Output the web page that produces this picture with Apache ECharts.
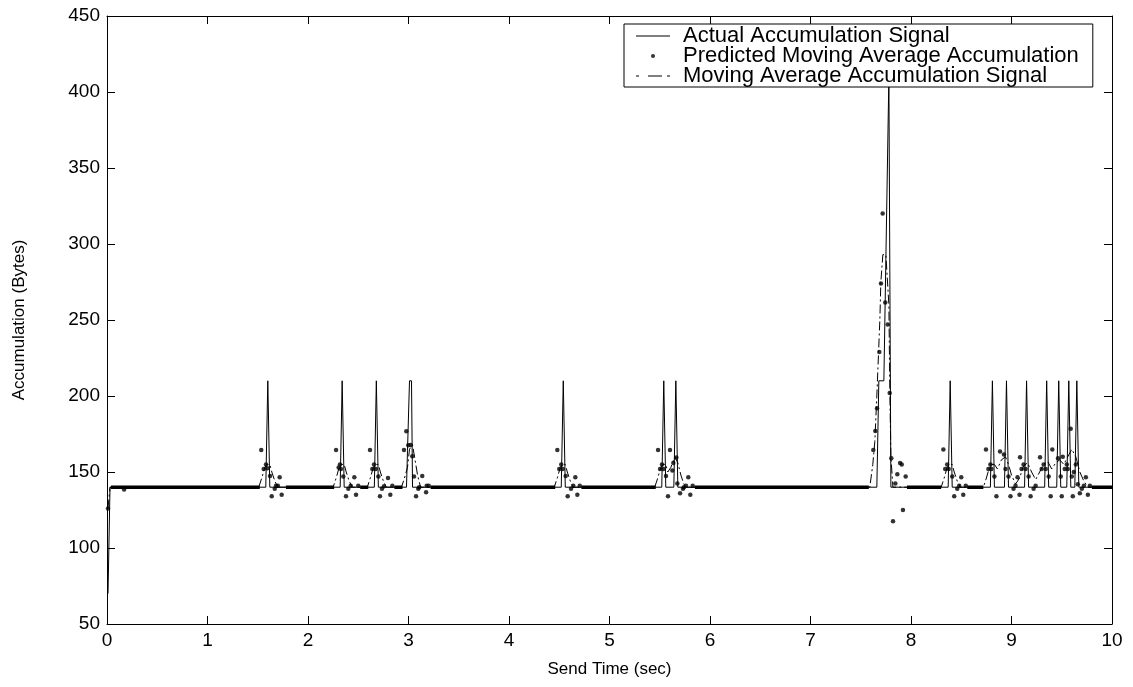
<!DOCTYPE html>
<html><head><meta charset="utf-8">
<script src="https://cdn.jsdelivr.net/npm/echarts@6/dist/echarts.min.js"></script>
<style>html,body{margin:0;padding:0;background:#fff}#c{width:1133px;height:687px}</style>
</head><body><div id="c"></div>
<script>
// ---- data (time in sec, accumulation in bytes) ----
const xTicks = [0,1,2,3,4,5,6,7,8,9,10];
const yTicks = [50,100,150,200,250,300,350,400,450];
const seriesNames = ['Actual Accumulation Signal','Predicted Moving Average Accumulation','Moving Average Accumulation Signal'];

const actualSignal = [
 [0.01,70],[0.03,140],
 [1.58,140],[1.60,210],[1.62,140],
 [2.32,140],[2.34,210],[2.36,140],
 [2.66,140],[2.68,210],[2.70,140],
 [2.98,140],[2.99,164],[3.00,164],[3.01,210],[3.03,210],[3.04,140],
 [4.52,140],[4.54,210],[4.56,140],
 [5.52,140],[5.54,210],[5.56,140],
 [5.64,140],[5.66,210],[5.68,140],
 [7.66,140],[7.68,210],[7.73,210],[7.78,410],[7.80,140],
 [8.37,140],[8.39,210],[8.41,140],
 [8.79,140],[8.81,210],[8.83,140],
 [8.93,140],[8.95,210],[8.97,140],
 [9.13,140],[9.15,210],[9.17,140],
 [9.33,140],[9.35,210],[9.37,140],
 [9.45,140],[9.47,210],[9.49,140],
 [9.55,140],[9.57,210],[9.59,140],
 [9.63,140],[9.65,210],[9.67,140],
 [10,140]
];

const predictedDots = [
 [0.01,126],[0.17,138.5],
 [1.535,164.5],[1.559,152],[1.582,155],[1.595,152.5],[1.622,147.4],[1.639,134],[1.669,139],[1.682,141],[1.718,146.6],[1.738,135],[1.70,141],
 [2.279,164.5],[2.305,153],[2.318,155],[2.328,152],[2.351,147],[2.378,134],[2.401,139],[2.425,141],[2.461,146.6],[2.478,135],[2.50,141],
 [2.617,164.5],[2.64,152],[2.657,155],[2.674,152],[2.70,147],[2.716,134],[2.736,139],[2.756,140.6],[2.796,146],[2.819,135],[2.839,141],
 [2.955,164.5],[2.978,176.8],[2.998,167.6],[3.022,167.8],[3.038,160.4],[3.055,147],[3.075,134],[3.097,139],[3.107,140],[3.137,147.4],[3.175,136.7],[3.181,141],[3.201,141],
 [4.481,164.5],[4.50,152],[4.52,155],[4.534,152],[4.564,147.4],[4.584,134],[4.617,139],[4.64,141],[4.66,146.6],[4.68,135],[4.704,141],
 [5.483,164.5],[5.503,152],[5.522,155],[5.535,152],[5.562,147.4],[5.582,134],[5.602,164.5],[5.625,151],[5.635,156],[5.665,159.5],[5.675,142.4],[5.702,136],[5.731,139],[5.741,140],[5.761,141],[5.784,146.6],[5.804,135],[5.828,141],
 [7.625,164.5],[7.645,177],[7.662,192],[7.685,229],[7.701,274],[7.718,320],[7.744,261.5],[7.768,247],[7.788,202],[7.804,159],[7.821,117.6],[7.844,142.4],[7.864,148.5],[7.891,156],[7.908,155],[7.92,125],[7.947,147],
 [8.322,164.8],[8.34,152],[8.36,155],[8.375,152],[8.41,147],[8.43,134],[8.46,139],[8.48,141],[8.50,146.6],[8.52,135],[8.545,141],
 [8.746,164.8],[8.77,152],[8.79,155],[8.80,152],[8.83,147],[8.85,134],[8.886,163.5],[8.925,161.5],[8.94,152],[8.97,147],[8.99,134],[9.02,139],[9.04,141],[9.06,146.6],[9.08,135],
 [9.085,159.7],[9.10,152],[9.12,155],[9.14,152],[9.17,147],[9.19,134],[9.22,139],[9.24,141],
 [9.284,159.7],[9.30,152],[9.32,155],[9.34,152],[9.37,147],[9.39,134],[9.406,164.8],
 [9.463,159],[9.49,147],[9.50,134],[9.51,160],[9.53,152],[9.55,155],[9.56,152],[9.589,178.4],[9.60,147],[9.61,134],[9.62,150],[9.64,155],[9.66,142],[9.68,136],[9.70,139],[9.72,141],[9.74,146.6],[9.76,135],[9.78,141]
];

// stretches where the predicted samples sit on the 140-byte floor (dense dots)
const predictedFloorRuns = [[0.04,1.52],[1.78,2.26],[2.52,2.60],[2.86,2.94],[3.22,4.46],[4.72,5.46],[5.85,7.58],[7.96,8.30],[8.56,8.72],[9.80,10.0]];
const floorValue = 140;

const movingAverage = [
 [0.01,126],[0.03,140],
 [1.51,140],[1.54,146],[1.57,153],[1.59,155],[1.62,155],[1.64,150],[1.67,144],[1.70,140],
 [2.25,140],[2.28,146],[2.31,153],[2.33,155],[2.36,155],[2.38,150],[2.41,144],[2.44,140],
 [2.59,140],[2.62,146],[2.65,153],[2.67,155],[2.70,155],[2.72,150],[2.75,144],[2.78,140],
 [2.93,140],[2.96,146],[2.99,153],[3.01,165],[3.04,168],[3.06,160],[3.09,148],[3.12,140],
 [4.45,140],[4.48,146],[4.51,153],[4.53,155],[4.56,155],[4.58,150],[4.61,144],[4.64,140],
 [5.45,140],[5.48,146],[5.51,153],[5.53,155],[5.56,155],[5.58,150],[5.61,153],[5.65,160],[5.68,156],[5.71,148],[5.74,142],[5.77,140],
 [7.59,140],[7.62,155],[7.64,170],[7.66,200],[7.69,250],[7.70,275],[7.72,293],[7.75,293],[7.78,260],[7.79,200],[7.80,160],[7.82,140],
 [8.30,140],[8.33,146],[8.36,153],[8.38,155],[8.41,155],[8.43,150],[8.46,144],[8.49,140],
 [8.72,140],[8.75,146],[8.78,153],[8.80,155],[8.83,155],[8.86,152],[8.90,158],[8.94,160],[8.97,155],[9.00,148],[9.04,142],
 [9.08,146],[9.12,154],[9.16,156],[9.20,150],[9.24,145],[9.28,150],[9.32,155],[9.36,157],[9.40,152],[9.44,156],[9.48,158],[9.52,155],[9.56,160],[9.60,165],[9.64,160],[9.68,150],[9.72,144],[9.76,140],
 [10,140]
];

// ---- build ----
const floorData = [];
predictedFloorRuns.forEach(r => { floorData.push([r[0], floorValue], [r[1], floorValue], ['-','-']); });

const font = 'Liberation Sans, Arial, Helvetica, sans-serif';
const chart = echarts.init(document.getElementById('c'), null, {renderer:'canvas'});
const axisCommon = {
  axisLine:{show:true, onZero:false, lineStyle:{color:'#000', width:1}},
  axisTick:{show:true, inside:true, length:8, lineStyle:{color:'#000', width:1}},
  splitLine:{show:false}
};
chart.setOption({
  animation:false,
  backgroundColor:'#fff',
  grid:{left:107, right:21, top:16, bottom:63, containLabel:false},
  xAxis:[
    Object.assign({type:'value', min:0, max:10, interval:1, position:'bottom',
      name:'Send Time (sec)', nameLocation:'middle', nameGap:37,
      nameTextStyle:{color:'#000', fontSize:17, fontFamily:font},
      axisLabel:{color:'#000', fontSize:19, fontFamily:font, margin:7,
        formatter: v => xTicks.indexOf(v) >= 0 ? String(v) : ''}}, axisCommon),
    Object.assign({type:'value', min:0, max:10, interval:1, position:'top', axisLabel:{show:false}}, axisCommon)
  ],
  yAxis:[
    Object.assign({type:'value', min:50, max:450, interval:50, position:'left',
      name:'Accumulation (Bytes)', nameLocation:'middle', nameGap:79, nameRotate:90,
      nameTextStyle:{color:'#000', fontSize:17, fontFamily:font},
      axisLabel:{color:'#000', fontSize:19, fontFamily:font, margin:7,
        formatter: v => yTicks.indexOf(v) >= 0 ? String(v) : ''}}, axisCommon),
    Object.assign({type:'value', min:50, max:450, interval:50, position:'right', axisLabel:{show:false}}, axisCommon)
  ],
  legend:{
    orient:'vertical', left:624, top:24,
    data:[
      {name:seriesNames[0], icon:'path://M0,0h34v1h-34z'},
      {name:seriesNames[1], icon:'circle'},
      {name:seriesNames[2], icon:'path://M0,0h3v1h-3zM12,0h14v1h-14zM31,0h3v1h-3z'}
    ],
    itemWidth:34, itemHeight:4, itemGap:-2,
    padding:[1,14,0,12],
    borderColor:'#000', borderWidth:1, backgroundColor:'#fff', borderRadius:0,
    itemStyle:{color:'#000', borderWidth:0},
    textStyle:{color:'#000', fontSize:22, fontFamily:font, lineHeight:20, padding:[0,0,0,8]}
  },
  series:[
    {name:seriesNames[0], type:'line', data:actualSignal, symbol:'none',
      lineStyle:{color:'#000', width:1}, itemStyle:{color:'#000'}, z:3},
    {name:seriesNames[1], type:'scatter', data:predictedDots, symbol:'circle', symbolSize:4.5,
      itemStyle:{color:'#000'}, z:4},
    {name:'predicted floor', type:'line', data:floorData, symbol:'none', connectNulls:false,
      lineStyle:{color:'#000', width:3.5}, z:2, silent:true},
    {name:seriesNames[2], type:'line', data:movingAverage, symbol:'none',
      lineStyle:{color:'#000', width:1, type:[9,3,2,3]}, itemStyle:{color:'#000'}, z:3}
  ]
});
</script></body></html>
